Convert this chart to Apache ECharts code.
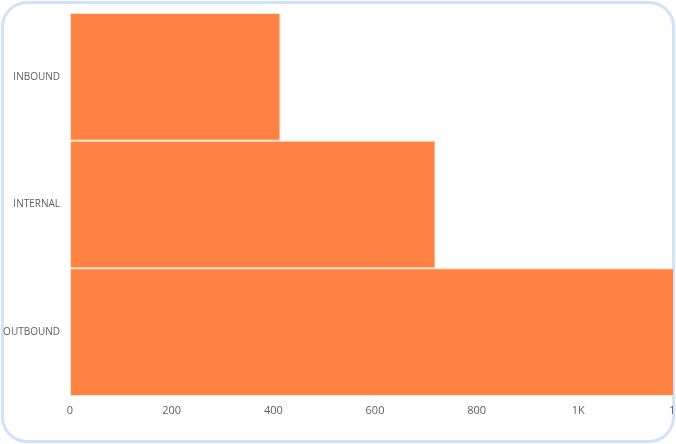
<!DOCTYPE html>
<html>
<head>
<meta charset="utf-8">
<script src="https://cdn.jsdelivr.net/npm/echarts@6/dist/echarts.min.js"></script>
<style>
  html, body { margin: 0; padding: 0; width: 676px; height: 444px; overflow: hidden; background: #fff; }
  .card { position: absolute; left: 1px; top: 1px; width: 674px; height: 442px; box-sizing: border-box;
          border: 3px solid #cfe4fa; border-radius: 26px; z-index: 1; }
  .clip { position: absolute; left: 0; top: 0; width: 673px; height: 444px; overflow: hidden; z-index: 2; }
  #chart { position: absolute; left: 0; top: 0; width: 690px; height: 444px; }
</style>
</head>
<body>
<div class="card"></div>
<div class="clip"><div id="chart"></div></div>
<script>
var categories = ['INBOUND', 'INTERNAL', 'OUTBOUND'];
var values = [414, 719, 1195];

var myChart = echarts.init(document.getElementById('chart'));
var option = {
  animation: false,
  grid: { left: 70, right: 10, top: 13, bottom: 48, outerBoundsMode: 'none' },
  xAxis: {
    type: 'value',
    min: 0,
    max: 1200,
    interval: 200,
    axisLine: { show: false },
    axisTick: { show: false },
    splitLine: { show: false },
    axisLabel: {
      color: '#5f5f5f',
      fontSize: 11,
      fontFamily: 'Open Sans',
      margin: 9,
      formatter: function (v) {
        return v >= 1000 ? (v / 1000) + 'K' : v;
      }
    }
  },
  yAxis: {
    type: 'category',
    inverse: true,
    data: categories,
    axisLine: { show: false },
    axisTick: { show: false },
    axisLabel: {
      color: '#5f5f5f',
      fontSize: 10,
      fontFamily: 'Open Sans',
      margin: 10
    }
  },
  series: [{
    type: 'bar',
    data: values,
    barCategoryGap: 0,
    itemStyle: {
      color: '#ff8243',
      borderColor: 'rgba(255,235,215,0.9)',
      borderWidth: 1
    }
  }]
};
myChart.setOption(option);
</script>
</body>
</html>
